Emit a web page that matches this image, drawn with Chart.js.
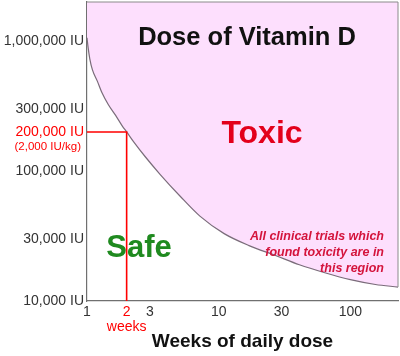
<!DOCTYPE html>
<html><head><meta charset="utf-8">
<script src="https://cdn.jsdelivr.net/npm/chart.js@4"></script>
<style>html,body{margin:0;padding:0;background:#fff}#wrap{position:relative;width:400px;height:356px}</style>
</head><body><div id="wrap"><canvas id="c" width="400" height="356"></canvas></div>
<script>
// ---- data ----
const weeks = [1, 1.02, 1.05, 1.1, 1.2, 1.3, 1.45, 1.65, 1.85, 2, 2.3, 2.75, 3.6, 5.1, 7.2, 11, 17, 27, 41, 64, 100, 155, 230];
const toxicBoundaryIU = [1060000, 890000, 730000, 600000, 490000, 400000, 325000, 268000, 223000, 200000, 164000, 130000, 94000, 64000, 45000, 33000, 26700, 22400, 19000, 16500, 14600, 13400, 12800];
const xTicks = [1, 2, 3, 10, 30, 100];
const yTicks = [10000, 30000, 100000, 200000, 300000, 1000000];
const markWeeks = 2;
const markIU = 200000;
const xMin = 1, xMax = 230, yMin = 10000, yMax = 2000000;

const FONT = "'Liberation Sans', Arial, Helvetica, sans-serif";
function fmt(v){ return String(Math.round(v)).replace(/\B(?=(\d{3})+(?!\d))/g, ','); }

const curve = weeks.map((w, i) => ({x: w, y: toxicBoundaryIU[i]}));
const edge = [
  {x: xMax, y: toxicBoundaryIU[toxicBoundaryIU.length - 1]},
  {x: xMax, y: yMax},
  {x: xMin, y: yMax}
];
const guide = [{x: xMin, y: markIU}, {x: markWeeks, y: markIU}, {x: markWeeks, y: yMin}];

const annot = {
  id: 'annot',
  afterDatasetDraw(chart, args) {
    if (args.index !== 0) return;
    const ctx = chart.ctx;
    ctx.save();
    ctx.textBaseline = 'middle';
    ctx.textAlign = 'center';
    ctx.fillStyle = '#111';
    ctx.font = "bold 25.5px " + FONT;
    ctx.fillText('Dose of Vitamin D', 247, 38);
    ctx.fillStyle = '#e3001b';
    ctx.font = "bold 32px " + FONT;
    ctx.fillText('Toxic', 262, 134);
    ctx.fillStyle = '#1f8a1f';
    ctx.font = "bold 31px " + FONT;
    ctx.fillText('Safe', 139, 248);
    ctx.textAlign = 'right';
    ctx.fillStyle = '#d4143c';
    ctx.font = "italic bold 12.5px " + FONT;
    ctx.fillText('All clinical trials which', 384, 237);
    ctx.fillText('found toxicity are in', 384, 253);
    ctx.fillText('this region', 384, 269);
    ctx.fillStyle = '#ff0000';
    ctx.font = "11.5px " + FONT;
    ctx.fillText('(2,000 IU/kg)', 81, 147);
    ctx.restore();
  }
};

new Chart(document.getElementById('c'), {
  type: 'line',
  data: {
    datasets: [
      {data: curve, fill: 'end', backgroundColor: '#fddffd', borderColor: '#7a6c7a', borderWidth: 1.2,
       pointRadius: 0, cubicInterpolationMode: 'monotone', order: 3},
      {data: edge, fill: false, borderColor: '#8a8a8a', borderWidth: 1, pointRadius: 0, tension: 0, clip: false, order: 2},
      {data: guide, fill: false, borderColor: '#ff0000', borderWidth: 1.6, pointRadius: 0, tension: 0, order: 1}
    ]
  },
  options: {
    responsive: false,
    animation: false,
    layout: {padding: {top: 2, right: 2, left: 0, bottom: 0}},
    plugins: {legend: {display: false}, tooltip: {enabled: false}},
    scales: {
      x: {
        type: 'logarithmic', min: xMin, max: xMax,
        afterBuildTicks: s => { s.ticks = xTicks.map(v => ({value: v})); },
        afterFit: s => { s.height = 55; s.paddingLeft = 0; s.paddingRight = 0; },
        grid: {display: false, drawTicks: false},
        border: {display: true, color: '#707070', width: 1.2},
        ticks: {
          autoSkip: false, maxRotation: 0, padding: 3,
          font: {family: FONT, size: 14, lineHeight: 1.1},
          color: c => (c.tick && c.tick.value === markWeeks) ? '#ff0000' : '#333',
          callback: v => v === markWeeks ? [String(v), 'weeks'] : String(v)
        },
        title: {display: true, text: 'Weeks of daily dose', color: '#111',
                font: {family: FONT, size: 19, weight: 'bold'}, padding: {top: 0, bottom: 3}}
      },
      y: {
        type: 'logarithmic', min: yMin, max: yMax,
        afterBuildTicks: s => { s.ticks = yTicks.map(v => ({value: v})); },
        afterFit: s => { s.width = 87; s.paddingTop = 0; s.paddingBottom = 0; },
        grid: {display: false, drawTicks: false},
        border: {display: true, color: '#707070', width: 1.2},
        ticks: {
          autoSkip: false, padding: 3,
          font: {family: FONT, size: 14},
          color: c => (c.tick && c.tick.value === markIU) ? '#ff0000' : '#333',
          callback: v => fmt(v) + ' IU'
        }
      }
    }
  },
  plugins: [annot]
});
</script>
</body></html>
